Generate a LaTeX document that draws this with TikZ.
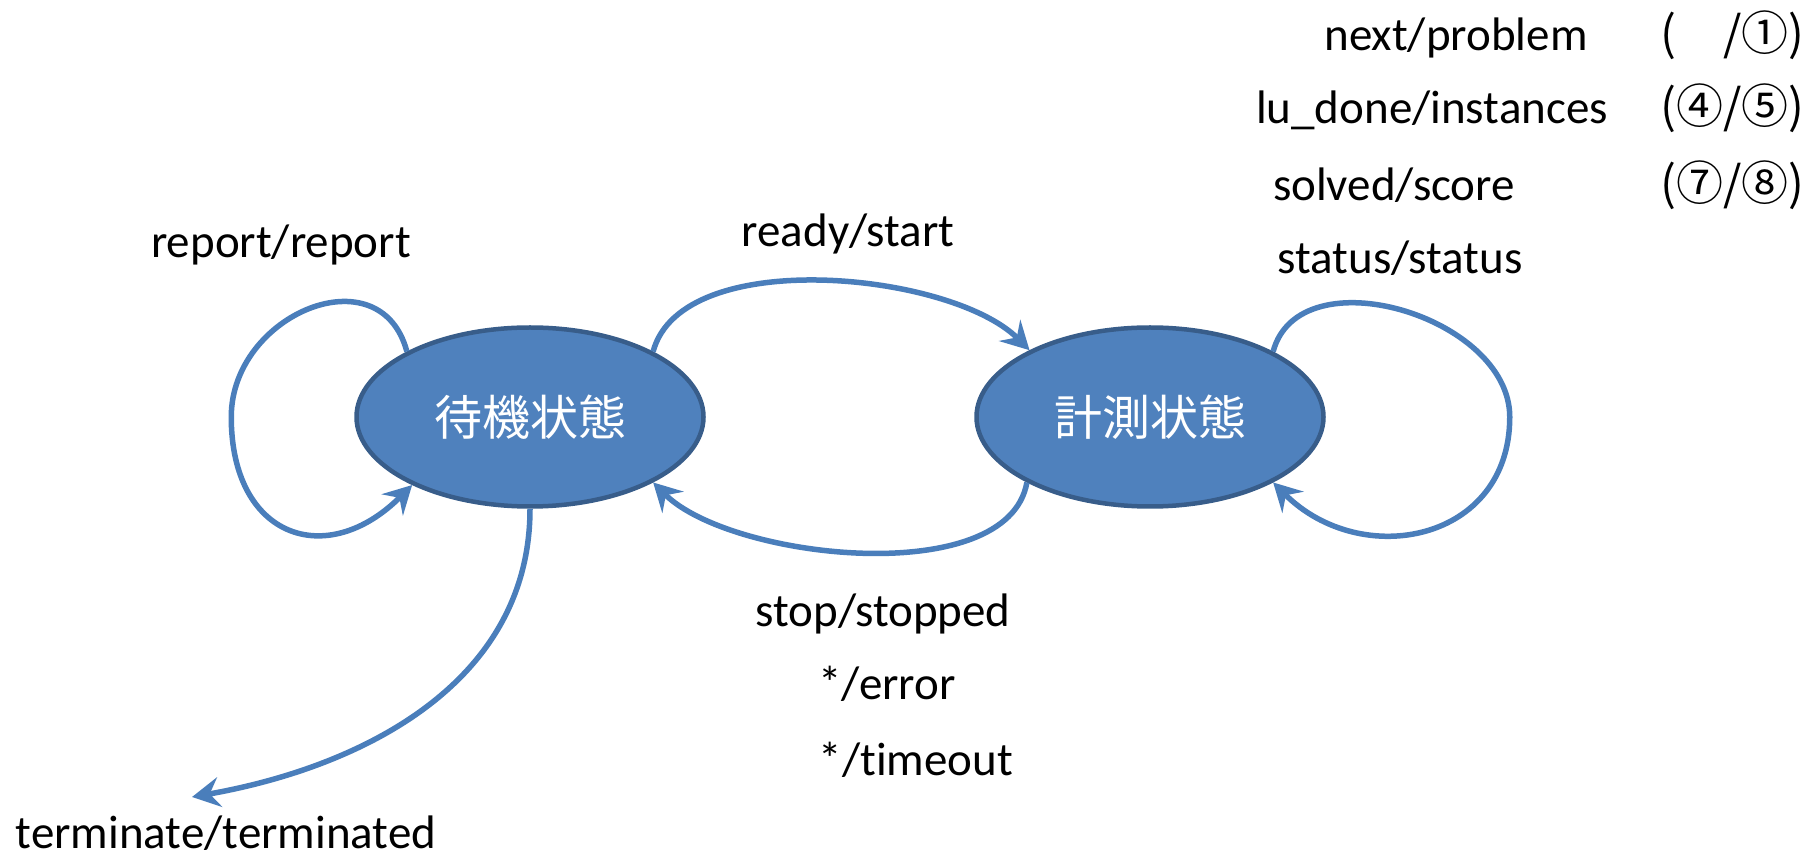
\documentclass[tikz,border=0pt]{standalone}
\usepackage{fontspec}
\setmainfont{Carlito}[Ligatures=NoCommon]
\newfontfamily\jpfont{Noto Sans CJK JP}
\usetikzlibrary{shapes.geometric,arrows.meta,positioning}
\definecolor{statefill}{HTML}{4F81BD}
\definecolor{stateline}{HTML}{385D8A}
\definecolor{arcline}{HTML}{4A7EBB}

\begin{document}
\begin{tikzpicture}[x=0.5pt,y=0.5pt]
    \tikzstyle{state}=[ellipse,draw=stateline,fill=statefill,line width=2.25pt,minimum width=173.5pt,minimum height=89.5pt,inner sep=0pt,text=white,font=\jpfont\fontsize{24}{28}\selectfont]
    \tikzstyle{tlabel}=[inner sep=0pt,anchor=base,font=\fontsize{23.5}{28}\selectfont]
    \tikzstyle{trans}=[draw=arcline,line width=2.75pt,-{Stealth[length=14pt,width=15pt,inset=5pt]}]
    \useasboundingbox (0,0) rectangle (1814,857);

    \node[state] (S-1) at (530,440) {待機状態};
    \node[state] (S-2) at (1150,440) {計測状態};
    \coordinate[left=61.5pt of S-1.west] (C-1);
    \coordinate[right=92pt of S-2.east] (C-2);
    \coordinate (C-3) at (192,60);

    % transition labels
    \foreach \txt/\x/\y [count=\i] in {{next/problem}/1456/806, {lu\_done/instances}/1432/733,
            {solved/score}/1394/656, {status/status}/1400/583, {report/report}/281/599,
            {ready/start}/848/610, {stop/stopped}/883/230, {*/error}/887/158,
            {*/timeout}/916/82, {terminate/terminated}/226/9}
        \node[tlabel] (L-\i) at (\x,\y) {\txt};
    \foreach \txt/\y [count=\i] in {{(　/①)}/806, {(④/⑤)}/733, {(⑦/⑧)}/656}
        \node[tlabel,anchor=base west,font=\jpfont\fontsize{23.5}{28}\selectfont] (P-\i) at (1660,\y) {\txt};

    \draw[trans] (S-1.28) to[out=75,in=135,looseness=0.75] (S-2.151);
    \draw[trans] (S-2.208) to[out=-100,in=-45,looseness=0.75] (S-1.332);
    \draw[trans] (S-1.152) to[out=105,in=90,looseness=1.4] (C-1) to[out=-90,in=-135,looseness=1.6] (S-1.210);
    \draw[trans] (S-2.28) to[out=75,in=90,looseness=1.05] (C-2) to[out=-90,in=-45,looseness=1.3] (S-2.332);
    \draw[trans] (S-1.south) to[out=-90,in=10] (C-3);
\end{tikzpicture}
\end{document}
